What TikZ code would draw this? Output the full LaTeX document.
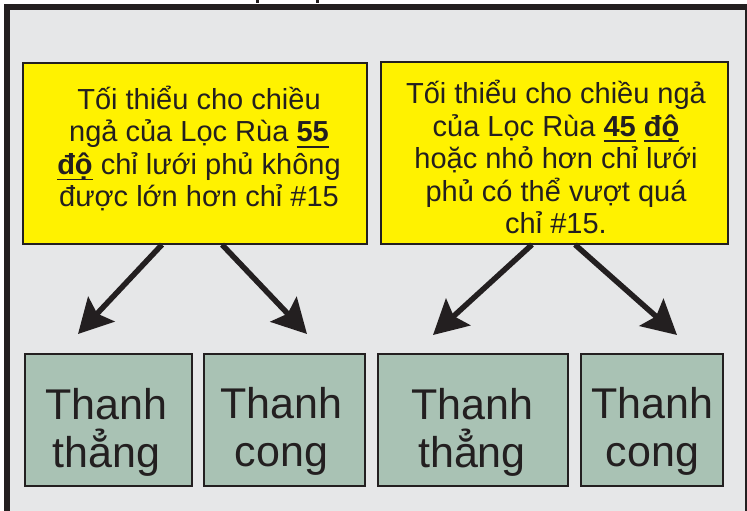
\documentclass[tikz,border=0pt]{standalone}
\usepackage{fontspec}
\setmainfont{Liberation Sans}
\usepackage{tikz}
\usetikzlibrary{calc}
\usetikzlibrary{arrows.meta}
\definecolor{bgray}{RGB}{230,231,232}
\definecolor{ink}{RGB}{35,31,32}
\definecolor{lyellow}{RGB}{255,242,0}
\definecolor{sage}{RGB}{169,194,180}
\newcommand{\ulbf}[1]{\setbox0\hbox{\bfseries #1}\rlap{\rule[-6pt]{\wd0}{1.6pt}}\box0\relax}
\tikzset{
  ybox/.style={draw=ink, line width=1.2pt, fill=lyellow, inner sep=0pt},
  gbox/.style={draw=ink, line width=1.2pt, fill=sage, inner sep=0pt, minimum height=132pt},
  ytext/.style={align=center, text=ink, inner sep=0pt, font=\fontsize{29}{32.5}\selectfont},
  gtext/.style={align=center, text=ink, inner sep=0pt, font=\fontsize{43}{48}\selectfont},
  arr/.style={draw=ink, line width=5.5pt, -{Stealth[length=34pt, width=36pt, inset=6pt]}},
}

\begin{document}
\begin{tikzpicture}[x=1pt, y=-1pt]
    \useasboundingbox (0,0) rectangle (747,511);

    % 枠
    \draw[ink, line width=6pt, fill=bgray] (7,7.5) rectangle (748,530);
    \fill[ink] (256,0) rectangle (259,3.5);
    \fill[ink] (316,0) rectangle (319,3.5);

    % 上の箱
    \node[ybox, minimum width=344pt, minimum height=181pt] (y1) at (195,153.5) {};
    \node[ybox, minimum width=347pt, minimum height=182pt] (y2) at (554.5,153) {};
    \node[ytext] (ty1) at (199,148.5) {Tối thiểu cho chiều\\ngả của Lọc Rùa \ulbf{55}\\\ulbf{độ} chỉ lưới phủ không\\được lớn hơn chỉ \#15};
    \node[ytext] (ty2) at (556,157) {Tối thiểu cho chiều ngả\\của Lọc Rùa \ulbf{45} \ulbf{độ}\\hoặc nhỏ hơn chỉ lưới\\phủ có thể vượt quá\\chỉ \#15.};

    % 下の箱
    \node[gbox, minimum width=167pt] (ga) at (108.5,420) {};
    \node[gbox, minimum width=161pt] (gb) at (284.5,420) {};
    \node[gbox, minimum width=190pt] (gc) at (473,420) {};
    \node[gbox, minimum width=142pt] (gd) at (652,420) {};
    \node[gtext] (ta) at (106.5,432) {Thanh\\thẳng};
    \node[gtext] (tb) at (281.5,431) {Thanh\\cong};
    \node[gtext] (tc) at (472,432) {Thanh\\thẳng};
    \node[gtext] (td) at (652.5,431) {Thanh\\cong};

    % 矢印の先
    \coordinate (t1) at (78,334);
    \coordinate (t2) at (307,334);
    \coordinate (t3) at (433,335);
    \coordinate (t4) at (677,335);

    \draw[arr] ($(y1.south)+(-33,0)$)--(t1);
    \draw[arr] ($(y1.south)+(27,0)$)--(t2);
    \draw[arr] ($(y2.south)+(-22.5,0)$)--(t3);
    \draw[arr] ($(y2.south)+(20.5,0)$)--(t4);

\end{tikzpicture}
\end{document}
